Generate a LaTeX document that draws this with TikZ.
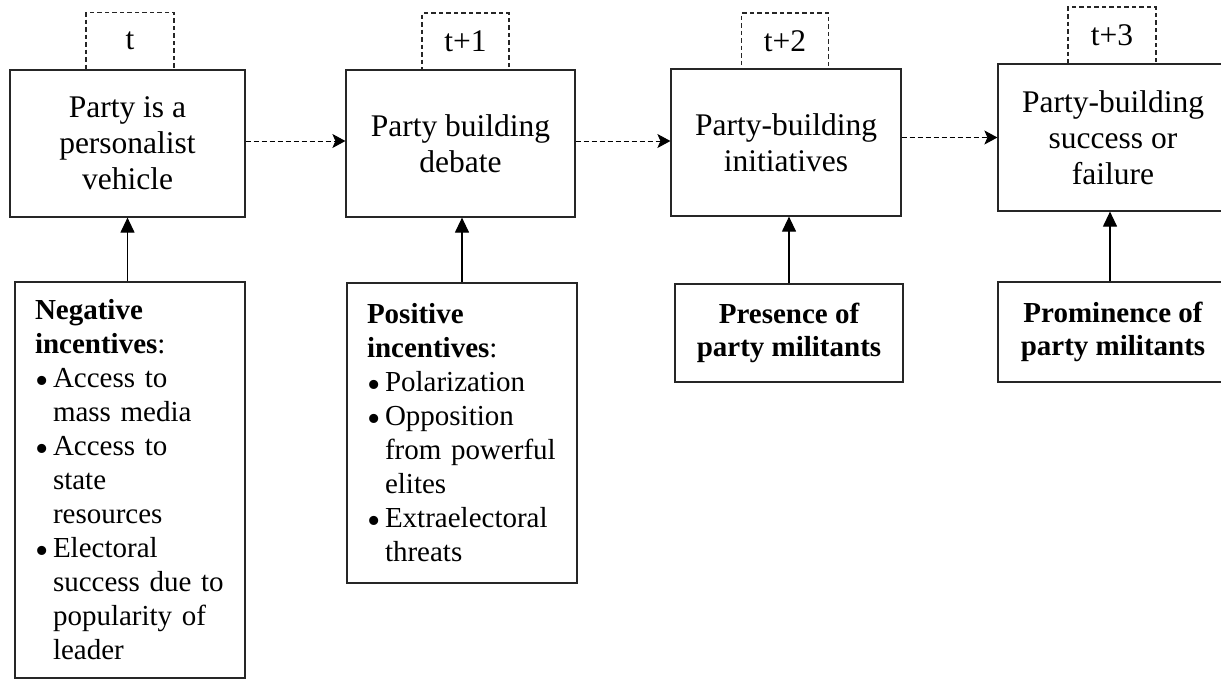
\documentclass[tikz,border=0pt]{standalone}
\usepackage{fontspec}
\setmainfont{Liberation Serif}
\usetikzlibrary{arrows.meta}
\newcommand\lbul{\makebox[18pt][l]{\smash{\raisebox{-5.5pt}{\fontsize{38}{34}\selectfont\textbullet}}}}
\newcommand\lind{\hspace*{18pt}}
\begin{document}
\begin{tikzpicture}[x=1pt,y=-1pt,
  mainbox/.style={draw=black!85, line width=1.2pt, align=center, inner sep=0pt,
    minimum height=147pt, font=\fontsize{31.5}{36}\selectfont},
  timebox/.style={draw=black!85, dash pattern=on 4.5pt off 3pt, line width=1.1pt,
    inner sep=0pt, minimum height=57pt, font=\fontsize{31.5}{36}\selectfont},
  listbox/.style={draw=black!85, line width=1.2pt, align=left, inner xsep=20pt,
    inner ysep=0pt, text width=190pt, font=\fontsize{29}{34}\selectfont},
  factorbox/.style={draw=black!85, line width=1.2pt, align=center, inner sep=0pt,
    minimum height=99pt, font=\fontsize{29}{33}\selectfont\bfseries},
  uparrow/.style={line width=1.2pt, -{Triangle[length=15pt,width=14pt]}},
  dasharrow/.style={line width=1pt, dash pattern=on 5pt off 3pt,
    -{Stealth[length=13pt,width=14pt,inset=3pt]}}
]
\useasboundingbox (0,0) rectangle (1221,681);
\clip (0,0) rectangle (1221,681);

% time labels
\node[timebox, minimum width=88pt] (t0) at (130,41) {t};
\node[timebox, minimum width=87pt] (t1) at (465.5,41.5) {t+1};
\node[timebox, minimum width=87pt, minimum height=56pt] (t2) at (785,41) {t+2};
\node[timebox, minimum width=88pt] (t3) at (1112,35.5) {t+3};

% main boxes
\node[mainbox, minimum width=235pt] (b1) at (127.5,143.5) {Party is a\\personalist\\vehicle};
\node[mainbox, minimum width=229pt] (b2) at (460.5,143.5) {Party building\\debate};
\node[mainbox, minimum width=230pt] (b3) at (786,142.5) {Party-building\\initiatives};
\node[mainbox, minimum width=230pt] (b4) at (1113,137.5) {Party-building\\success or\\failure};

% lower boxes
\node[listbox, minimum height=396pt] (neg) at (130,480) {%
\textbf{Negative}\\
\textbf{incentives}:\\
\lbul Access to\\
\lind mass media\\
\lbul Access to\\
\lind state\\
\lind resources\\
\lbul Electoral\\
\lind success due to\\
\lind popularity of\\
\lind leader};
\node[listbox, minimum height=300pt] (pos) at (462,433) {%
\textbf{Positive}\\
\textbf{incentives}:\\
\lbul Polarization\\
\lbul Opposition\\
\lind from powerful\\
\lind elites\\
\lbul Extraelectoral\\
\lind threats};
\node[factorbox, minimum width=228pt, minimum height=98pt] (pres) at (789,333) {Presence of\\party militants};
\node[factorbox, minimum width=230pt, minimum height=100pt] (prom) at (1113,332) {Prominence of\\party militants};

% connectors
\draw[dasharrow] ([yshift=2.5pt]b1.east) -- ([yshift=2.5pt]b2.west);
\draw[dasharrow] ([yshift=2.5pt]b2.east) -- ([yshift=1.5pt]b3.west);
\draw[dasharrow] (b3.east |- b4.west) -- (b4.west);

\draw[uparrow] (neg.north -| b1.south) -- (b1.south);
\draw[uparrow] (pos.north) -- (pos.north |- b2.south);
\draw[uparrow] (pres.north) -- (pres.north |- b3.south);
\draw[uparrow] ([xshift=-3pt]prom.north) -- ([xshift=-3pt]b4.south);
\end{tikzpicture}
\end{document}
